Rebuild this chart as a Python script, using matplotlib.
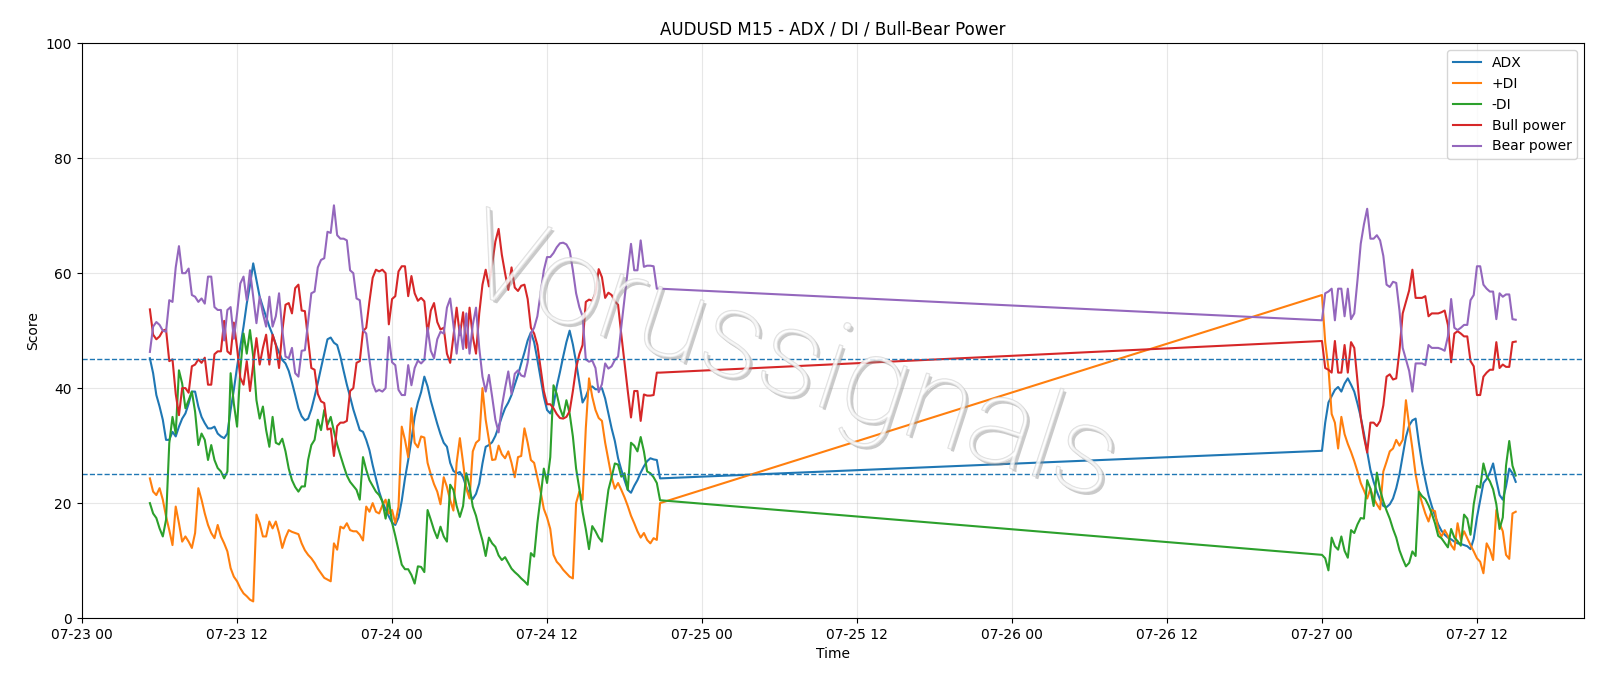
import numpy as np
import pandas as pd
import matplotlib
matplotlib.use("Agg")
import matplotlib.pyplot as plt
import matplotlib.dates as mdates
import matplotlib.patheffects as pe

# two sessions of M15 bars (gap over the weekend)
t_seg1 = pd.date_range("2025-07-23 05:15", periods=159, freq="15min")
t_seg2 = pd.date_range("2025-07-27 00:00", periods=61, freq="15min")

adx_1 = [45.2, 42.6, 38.8, 36.8, 34.5, 31.0, 31.0, 32.4, 31.6, 33.3, 34.7, 35.6, 37.3, 39.4, 39.4, 36.8, 35.0, 33.9, 33.0, 33.0,
         33.3, 32.1, 31.6, 31.3, 32.1, 36.2, 39.7, 43.7, 47.2, 50.7, 54.7, 57.9, 61.7, 58.8, 55.9, 54.1, 52.4, 50.7, 49.3, 47.6,
         46.2, 44.9, 44.3, 43.0, 41.0, 38.8, 36.5, 35.1, 34.4, 34.7, 36.3, 38.5, 40.9, 43.5, 46.0, 48.5, 48.8, 47.9, 47.5, 45.5,
         43.0, 40.6, 38.5, 36.3, 34.5, 32.7, 32.4, 31.0, 29.2, 26.6, 24.3, 22.0, 20.3, 18.9, 17.7, 16.6, 16.2, 17.5, 20.4, 24.3,
         27.5, 31.0, 35.0, 37.5, 39.3, 42.0, 40.3, 37.8, 35.8, 33.8, 32.0, 30.5, 29.8, 27.0, 25.6, 25.2, 25.4, 24.5, 22.8, 21.5,
         20.7, 21.6, 23.4, 26.9, 29.8, 30.1, 30.6, 31.7, 33.3, 35.0, 36.5, 37.5, 38.8, 40.6, 42.3, 44.3, 46.2, 48.3, 49.7, 48.0,
         45.0, 41.8, 38.5, 36.2, 35.6, 37.0, 40.3, 42.8, 45.5, 48.0, 50.0, 47.6, 44.5, 41.0, 37.5, 38.5, 40.0, 40.3, 39.8, 39.8,
         40.0, 38.2, 35.6, 33.0, 30.8, 27.8, 25.8, 24.0, 22.3, 21.8, 23.0, 24.0, 25.3, 26.4, 27.3, 27.8, 27.6, 27.5, 24.3]
adx_2 = [29.1, 34.0, 37.5, 38.6, 39.7, 40.2, 39.4, 40.8, 41.7, 40.6, 39.4, 37.3, 35.0, 32.1, 28.9, 25.8, 23.7, 22.0, 20.6, 19.5,
         19.3, 19.8, 20.8, 22.6, 25.0, 28.3, 31.5, 33.5, 34.4, 34.7, 30.5, 26.9, 24.0, 21.4, 19.5, 17.8, 16.3, 15.2, 14.5, 14.0,
         13.7, 13.3, 13.0, 12.9, 12.7, 12.5, 12.0, 13.8, 17.5, 20.5, 23.5, 24.2, 25.3, 26.9, 24.0, 21.4, 20.6, 22.9, 26.0, 25.2,
         23.7]

plus_di_1 = [24.3, 22.0, 21.4, 22.6, 20.6, 17.7, 15.3, 12.7, 19.4, 16.5, 13.3, 14.2, 13.3, 12.2, 14.8, 22.6, 20.6, 18.2, 16.2, 14.8,
             13.9, 16.2, 14.2, 13.0, 11.6, 8.7, 7.2, 6.4, 5.2, 4.3, 3.8, 3.2, 2.9, 18.0, 16.5, 14.2, 14.2, 16.8, 15.6, 16.8,
             14.8, 12.2, 14.0, 15.3, 15.0, 14.8, 14.6, 13.0, 11.8, 11.0, 10.4, 9.6, 8.6, 7.8, 7.0, 6.7, 6.4, 13.0, 11.9, 15.9,
             15.6, 16.5, 15.3, 15.1, 15.1, 14.5, 13.5, 19.4, 18.5, 20.0, 18.5, 18.2, 19.6, 20.6, 18.2, 18.8, 16.5, 19.4, 33.3, 31.0,
             28.0, 36.5, 30.5, 29.7, 31.6, 31.4, 27.0, 25.0, 23.3, 22.0, 19.8, 24.5, 22.8, 20.5, 18.7, 27.0, 31.3, 27.0, 22.5, 20.8,
             29.0, 30.5, 31.0, 40.0, 34.5, 31.0, 27.5, 27.6, 30.0, 28.5, 27.8, 29.0, 27.0, 24.5, 28.0, 28.2, 33.0, 30.5, 27.5, 27.0,
             24.5, 22.0, 19.0, 17.5, 15.5, 11.0, 9.8, 9.2, 8.4, 7.8, 7.2, 6.9, 20.0, 22.0, 20.6, 33.0, 41.7, 38.5, 36.2, 34.8,
             34.3, 30.5, 27.5, 24.5, 22.5, 23.5, 22.3, 21.0, 19.5, 17.8, 16.5, 15.1, 14.0, 14.8, 13.6, 13.0, 13.9, 13.6, 20.0]
plus_di_2 = [56.2, 48.0, 43.5, 35.5, 34.0, 29.5, 35.0, 32.0, 30.3, 28.9, 27.3, 25.5, 23.5, 22.2, 20.8, 22.5, 20.8, 19.8, 18.9, 25.5,
             27.2, 29.0, 29.5, 31.0, 30.0, 31.0, 37.9, 33.5, 29.5, 25.0, 22.0, 20.0, 18.2, 16.8, 18.8, 18.6, 15.3, 14.2, 15.3, 14.3,
             12.7, 11.9, 16.5, 13.6, 15.1, 13.9, 12.7, 11.6, 10.4, 9.8, 7.8, 13.0, 11.9, 10.1, 18.8, 16.5, 15.1, 11.0, 10.3, 18.2,
             18.5]

minus_di_1 = [20.0, 18.2, 17.4, 15.6, 14.2, 17.1, 30.4, 35.0, 32.1, 43.1, 40.8, 36.5, 37.9, 39.4, 35.9, 30.1, 32.1, 31.0, 27.5, 30.1,
              27.5, 26.1, 25.5, 24.3, 25.5, 42.6, 37.3, 33.3, 43.1, 49.5, 46.0, 50.1, 45.5, 37.9, 34.7, 36.8, 32.7, 29.8, 35.0, 30.5,
              30.2, 31.2, 29.0, 26.0, 24.0, 22.8, 22.0, 22.9, 22.9, 27.5, 30.1, 31.0, 34.5, 32.7, 36.2, 33.6, 35.0, 32.5, 30.2, 28.3,
              26.5, 24.8, 23.7, 23.0, 22.3, 20.6, 28.0, 25.8, 24.0, 23.0, 22.0, 21.4, 20.3, 17.3, 20.6, 16.6, 14.3, 11.8, 9.3, 8.5,
              8.5, 7.5, 6.0, 9.0, 8.9, 8.0, 18.8, 17.1, 15.3, 13.9, 15.9, 14.2, 13.3, 23.2, 22.3, 19.5, 17.6, 19.5, 25.2, 22.9,
              19.4, 17.8, 15.5, 13.5, 10.8, 14.0, 13.0, 12.4, 10.9, 10.1, 10.6, 9.6, 8.6, 8.0, 7.5, 6.9, 6.4, 5.8, 11.3, 10.7,
              16.5, 21.0, 26.0, 23.5, 28.0, 40.5, 39.0, 36.5, 35.0, 37.9, 35.6, 31.6, 26.0, 22.5, 18.5, 15.5, 12.0, 16.0, 15.1, 14.0,
              13.3, 18.0, 22.3, 24.5, 26.9, 26.7, 24.6, 25.2, 22.3, 30.5, 30.0, 29.0, 31.5, 29.0, 25.5, 25.2, 24.5, 23.5, 20.5]
minus_di_2 = [11.0, 10.4, 8.3, 14.0, 12.5, 11.9, 14.2, 11.7, 10.5, 15.3, 14.8, 16.3, 17.4, 17.3, 24.0, 22.5, 19.5, 25.3, 22.3, 20.3,
              18.7, 17.3, 15.5, 14.0, 11.8, 10.3, 9.0, 9.6, 11.6, 10.8, 22.0, 21.2, 20.7, 19.6, 18.2, 16.5, 14.3, 13.9, 13.1, 12.3,
              15.5, 14.0, 13.4, 12.6, 18.0, 17.3, 14.5, 19.8, 23.0, 22.7, 26.9, 24.7, 23.8, 22.4, 19.8, 15.5, 17.5, 26.5, 30.8, 26.5,
              24.8]

bull_1 = [53.7, 49.3, 48.5, 49.0, 50.0, 50.2, 44.7, 45.0, 39.0, 35.3, 40.0, 40.0, 39.2, 43.8, 44.1, 45.0, 44.4, 45.3, 40.6, 40.6,
          45.9, 46.4, 46.4, 51.7, 46.4, 45.9, 51.4, 47.0, 41.8, 40.6, 44.7, 39.5, 44.1, 48.7, 44.1, 47.0, 49.3, 44.1, 49.3, 47.5,
          43.5, 49.9, 54.5, 54.8, 53.0, 57.4, 58.0, 53.5, 53.4, 48.5, 43.5, 43.2, 39.0, 37.7, 37.4, 32.8, 33.0, 28.2, 33.4, 34.0,
          34.0, 34.3, 39.5, 40.0, 44.4, 44.7, 49.9, 50.5, 55.1, 59.2, 60.6, 60.3, 60.6, 60.0, 51.1, 55.5, 56.0, 60.3, 61.2, 61.2,
          56.0, 59.5, 56.5, 55.2, 55.7, 55.1, 49.5, 53.5, 54.8, 51.5, 50.2, 50.5, 46.0, 44.4, 49.0, 54.0, 49.2, 53.2, 47.0, 54.0,
          49.0, 46.0, 53.0, 58.0, 60.6, 57.7, 61.5, 65.5, 67.7, 63.2, 60.0, 57.1, 61.0, 57.5, 56.9, 57.8, 58.0, 55.5, 50.5, 49.5,
          47.5, 43.5, 39.5, 37.2, 37.2, 36.5, 35.5, 34.8, 34.7, 35.0, 36.0, 39.5, 43.5, 45.9, 47.5, 55.0, 55.4, 55.2, 56.5, 60.7,
          59.3, 55.7, 56.6, 56.2, 55.1, 54.5, 49.3, 44.4, 39.5, 34.9, 39.5, 39.5, 34.3, 38.9, 38.7, 38.7, 38.8, 42.7, 42.7]
bull_2 = [48.2, 43.5, 43.2, 42.7, 48.2, 42.7, 42.7, 47.5, 42.7, 48.0, 47.0, 41.2, 34.9, 31.5, 28.8, 34.0, 34.0, 33.4, 34.3, 37.0,
          42.0, 42.4, 41.5, 41.7, 46.5, 53.0, 55.0, 57.0, 60.6, 55.7, 55.7, 55.7, 56.0, 52.5, 53.0, 53.0, 53.0, 53.2, 53.5, 51.0,
          44.5, 49.5, 49.9, 49.5, 49.0, 49.0, 44.7, 43.8, 38.8, 38.8, 42.0, 42.7, 43.2, 43.2, 48.0, 43.5, 44.1, 43.7, 43.7, 48.0,
          48.1]

bear_1 = [46.3, 50.7, 51.5, 51.0, 50.0, 49.8, 55.3, 55.0, 61.0, 64.7, 60.0, 60.0, 60.8, 56.2, 55.9, 55.0, 55.6, 54.7, 59.4, 59.4,
          54.1, 53.6, 53.6, 48.3, 53.6, 54.1, 48.6, 53.0, 58.2, 59.4, 55.3, 60.5, 55.9, 51.3, 55.9, 53.0, 50.7, 55.9, 50.7, 52.5,
          56.5, 50.1, 45.5, 45.2, 47.0, 42.6, 42.0, 46.5, 46.6, 51.5, 56.5, 56.8, 61.0, 62.3, 62.6, 67.2, 67.0, 71.8, 66.6, 66.0,
          66.0, 65.7, 60.5, 60.0, 55.6, 55.3, 50.1, 49.5, 44.9, 40.8, 39.4, 39.7, 39.4, 40.0, 48.9, 44.5, 44.0, 39.7, 38.8, 38.8,
          44.0, 40.5, 43.5, 44.8, 44.3, 44.9, 50.5, 46.5, 45.2, 48.5, 49.8, 49.5, 54.0, 55.6, 51.0, 46.0, 50.8, 46.8, 53.0, 46.0,
          51.0, 54.0, 47.0, 42.0, 39.4, 42.3, 38.5, 34.5, 32.3, 36.8, 40.0, 42.9, 39.0, 42.5, 43.1, 42.2, 42.0, 44.5, 49.5, 50.5,
          52.5, 56.5, 60.5, 62.8, 62.8, 63.5, 64.5, 65.2, 65.3, 65.0, 64.0, 60.5, 56.5, 54.1, 52.5, 45.0, 44.6, 44.8, 43.5, 39.3,
          40.7, 44.3, 43.4, 43.8, 44.9, 45.5, 50.7, 55.6, 60.5, 65.1, 60.5, 60.5, 65.7, 61.1, 61.3, 61.3, 61.2, 57.3, 57.3]
bear_2 = [51.8, 56.5, 56.8, 57.3, 51.8, 57.3, 57.3, 52.5, 57.3, 52.0, 53.0, 58.8, 65.1, 68.5, 71.2, 66.0, 66.0, 66.6, 65.7, 63.0,
          58.0, 57.6, 58.5, 58.3, 53.5, 47.0, 45.0, 43.0, 39.4, 44.3, 44.3, 44.3, 44.0, 47.5, 47.0, 47.0, 47.0, 46.8, 46.5, 49.0,
          55.5, 50.5, 50.1, 50.5, 51.0, 51.0, 55.3, 56.2, 61.2, 61.2, 58.0, 57.3, 56.8, 56.8, 52.0, 56.5, 55.9, 56.3, 56.3, 52.0,
          51.9]

levels = [45, 25]

df = pd.DataFrame({
    "ADX": adx_1 + adx_2,
    "+DI": plus_di_1 + plus_di_2,
    "-DI": minus_di_1 + minus_di_2,
    "Bull power": bull_1 + bull_2,
    "Bear power": bear_1 + bear_2,
}, index=t_seg1.append(t_seg2))

fig, ax = plt.subplots(figsize=(16, 6.86), dpi=100)
fig.subplots_adjust(left=0.051, right=0.99, bottom=0.099, top=0.937)

for col in df.columns:
    ax.plot(df.index, df[col], label=col, linewidth=1.5)

for lv in levels:
    ax.axhline(lv, color="tab:blue", linestyle="--", linewidth=1)

ax.set_ylim(0, 100)
ax.set_title("AUDUSD M15 - ADX / DI / Bull-Bear Power")
ax.set_xlabel("Time")
ax.set_ylabel("Score")
ax.grid(True, alpha=0.3)
ax.legend(loc="upper right")

ax.xaxis.set_major_locator(mdates.HourLocator(byhour=[0, 12]))
ax.xaxis.set_major_formatter(mdates.DateFormatter("%m-%d %H"))

# watermark: thin light letters, mostly see-through, grey drop shadow
wm = ax.text(0.472, 0.445, "Vorussignals", transform=ax.transAxes, fontsize=88,
             family=["Roboto", "DejaVu Sans"], fontweight="light",
             color="white", alpha=0.45, ha="center", va="center",
             rotation=-18, rotation_mode="anchor", zorder=5)
wm.set_path_effects([pe.SimplePatchShadow(offset=(2, -2), shadow_rgbFace="#8a8a8a", alpha=0.45),
                     pe.Stroke(linewidth=1.0, foreground="#cfcfcf", alpha=0.7),
                     pe.Normal()])

fig.savefig("out.png", dpi=100)
